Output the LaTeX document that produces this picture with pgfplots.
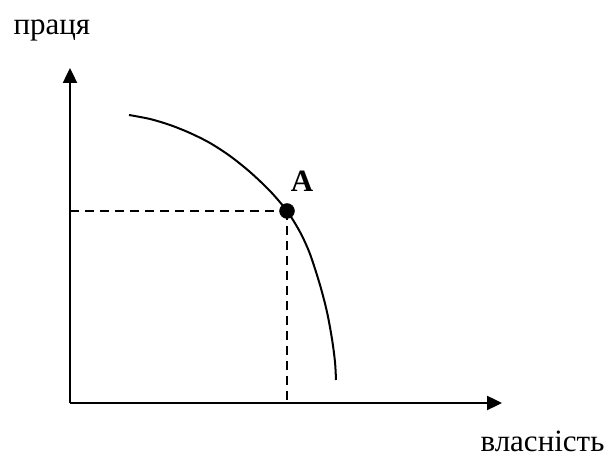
\documentclass[border=0pt]{standalone}
\usepackage{pgfplots}
\pgfplotsset{compat=1.18}
\usepackage{fontspec}
\setmainfont{Liberation Serif}
\usetikzlibrary{arrows.meta}
\begin{document}
\begin{tikzpicture}
\begin{axis}[
  width=611pt, height=457pt, scale only axis,
  xmin=0, xmax=611, ymin=0, ymax=457,
  axis line style={draw=none}, xtick=\empty, ytick=\empty, clip=false,
]
% axes
\addplot[black, line width=2.4pt, -{Triangle[length=15pt,width=14pt]}] coordinates {(70,54) (70,389)};
\addplot[black, line width=2.4pt, -{Triangle[length=15pt,width=14pt]}] coordinates {(70,54) (502,54)};
% dashed guides
\addplot[black, line width=1.8pt, dash pattern=on 9pt off 6pt] coordinates {(70,246) (287,246)};
\addplot[black, line width=1.8pt, dash pattern=on 9pt off 6pt] coordinates {(287,246) (287,54)};
% curve
\addplot[black, line width=2pt, smooth, tension=0.5] coordinates {
(129,342) (150,338) (170,332) (190,324) (210,314) (230,301) (250,285) (270,266) (287,246) (300,225) (310,203) (320,172) (327,145) (332,118) (335,95) (336,77)};
% point A
\addplot[black, only marks, mark=*, mark size=7.5pt] coordinates {(287,246)};
\node[anchor=base, font=\fontsize{31}{37}\selectfont\bfseries] at (axis cs:302,265) {A};
\node[anchor=base west, font=\fontsize{31}{37}\selectfont] at (axis cs:10,422) {праця};
\node[anchor=base west, font=\fontsize{31}{37}\selectfont] at (axis cs:477,5) {власність};
\end{axis}
\end{tikzpicture}
\end{document}
